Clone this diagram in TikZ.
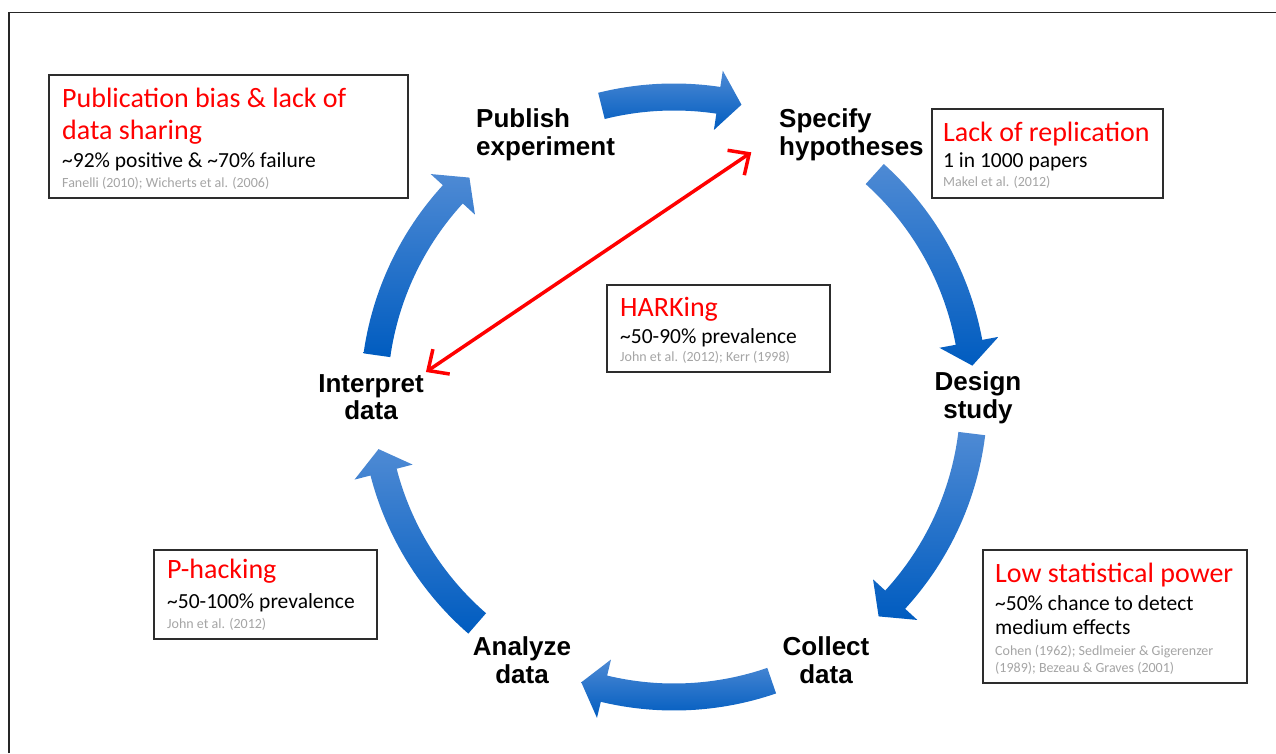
\documentclass[tikz,border=0pt]{standalone}
\usepackage{fontspec}
\setmainfont{Carlito}
\newfontfamily\stagefont{Liberation Sans}
\usetikzlibrary{arrows.meta}
\definecolor{cycleLight}{RGB}{78,138,212}
\definecolor{cycleDark}{RGB}{0,92,192}
\definecolor{citeGray}{RGB}{165,165,165}
\definecolor{panelEdge}{RGB}{45,45,45}

\begin{document}
\begin{tikzpicture}
[x=1pt,y=1pt,
  stageLabel/.style={font=\stagefont\bfseries\fontsize{26}{27.5}\selectfont,inner sep=2pt},
  panel/.style={draw=panelEdge,line width=1.3pt,fill=white,inner sep=0pt},
  redTitle/.style={font=\fontsize{28}{32}\selectfont,text=red,inner sep=0pt,anchor=base west},
  factText/.style={font=\fontsize{21.5}{24}\selectfont,inner sep=0pt,anchor=base west},
  citeText/.style={font=\fontsize{14}{17}\selectfont,text=citeGray,inner sep=0pt,anchor=base west},
  cycleArrow/.style={top color=cycleLight,bottom color=cycleDark,draw=none},
  harkLink/.style={{Straight Barb[length=16pt,width=30pt]}-{Straight Barb[length=16pt,width=30pt]},red,line width=3.5pt}]

\useasboundingbox (0,0) rectangle (1276,753);
%% frame
\draw[line width=1.5pt,black!85] (9,0) -- (9,740.5) -- (1276,740.5);

%% cycle arrows: tail angle / tip angle
\begin{scope}[shift={(674,356)}]
\foreach \tail/\tip in {104/77, 48/6, -7/-47, -71/-108, -131/-170, 172/133}
{
  \pgfmathsetmacro{\base}{\tip+4.5}
  \path[cycleArrow] (\tail:313.5) arc[start angle=\tail,end angle=\base,radius=313.5]
    -- (\base:330) -- (\tip:300) -- (\base:270) -- (\base:286.5)
    arc[start angle=\base,end angle=\tail,radius=286.5] -- cycle;
}
\end{scope}

%% stages of the cycle
\foreach \name/\x/\y/\anc/\al/\txt in {
  publish/474/618/west/left/{Publish\\experiment},
  specify/777/618/west/left/{Specify\\hypotheses},
  design/978/355/center/center/{Design\\study},
  collect/826/93/center/center/{Collect\\data},
  analyze/522/93/center/center/{Analyze\\data},
  interpret/371/356/center/center/{Interpret\\data}}
{
  \node[stageLabel,anchor=\anc,align=\al] (\name) at (\x,\y) {\txt};
}

%% panels
\foreach \name/\x/\y/\w/\h in {
  pubBox/228.5/616.5/359/123, repBox/1047.5/599.5/231/89,
  harkBox/718.5/424.5/223/87, powBox/1115/136.5/264/133,
  phBox/265.5/158.5/223/89}
{
  \node[panel,minimum width=\w pt,minimum height=\h pt] (\name) at (\x,\y) {};
}

%% panel titles
\foreach \name/\x/\y/\txt in {
  pubTitleA/62/645/{Publication bias \& lack of}, pubTitleB/62/613/{data sharing},
  repTitle/943/611/{Lack of replication}, harkTitle/620/436/{HARKing},
  powTitle/995/171/{Low statistical power}, phTitle/167/175/{P-hacking}}
{
  \node[redTitle] (\name) at (\x,\y) {\txt};
}
%% panel facts
\foreach \name/\x/\y/\txt in {
  pubFact/62/585/{\textasciitilde92\% positive \& \textasciitilde70\% failure},
  repFact/943/585/{1 in 1000 papers},
  harkFact/620/409/{\textasciitilde50-90\% prevalence},
  powFactA/995/143/{\textasciitilde50\% chance to detect},
  powFactB/995/119/{medium effects},
  phFact/167/145/{\textasciitilde50-100\% prevalence}}
{
  \node[factText] (\name) at (\x,\y) {\txt};
}
%% panel citations
\foreach \name/\x/\y/\txt in {
  pubCite/62/565/{Fanelli (2010); Wicherts et al. (2006)},
  repCite/943/566/{Makel et al. (2012)},
  harkCite/620/391/{John et al. (2012); Kerr (1998)},
  powCiteA/995/98/{Cohen (1962); Sedlmeier \& Gigerenzer},
  powCiteB/995/81/{(1989); Bezeau \& Graves (2001)},
  phCite/167/125/{John et al. (2012)}}
{
  \node[citeText] (\name) at (\x,\y) {\txt};
}

%% HARKing link
\draw[harkLink,shorten >=31pt] (interpret.north east) -- (specify.west);
\end{tikzpicture}
\end{document}
